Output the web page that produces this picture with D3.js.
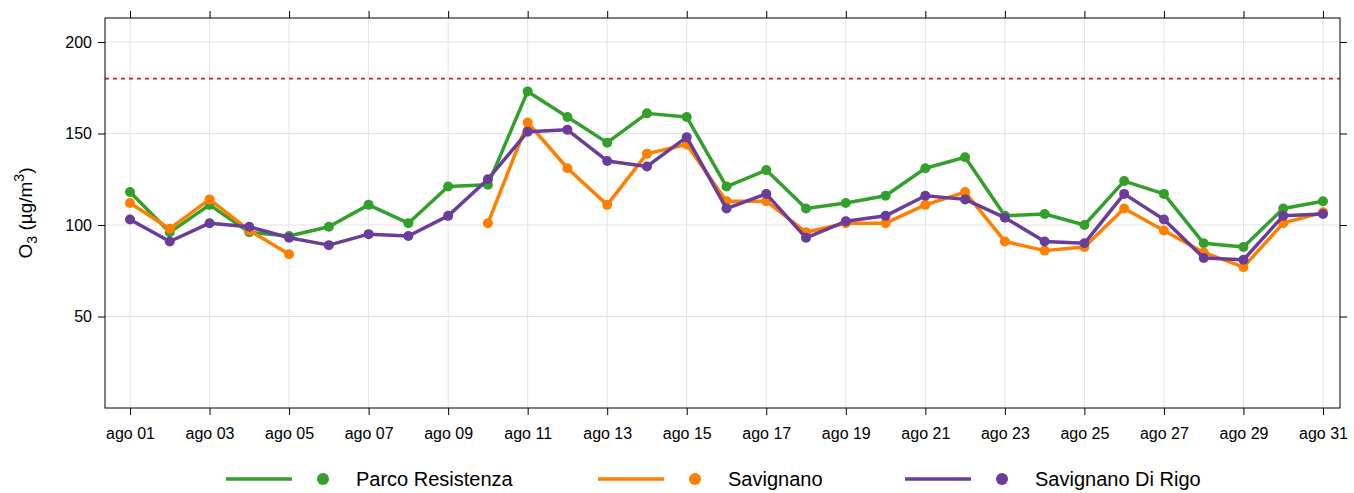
<!DOCTYPE html><html><head><meta charset="utf-8"><script src="https://cdn.jsdelivr.net/npm/d3@7"></script>
<style>body{margin:0;background:#fff}text{font-family:"Liberation Sans",Arial,sans-serif}</style></head><body><svg id="c" width="1354" height="493"></svg><script>
const days = d3.range(1,32);
const tickDays = d3.range(1,32,2);
const yTicks = [50,100,150,200];
const limit = 180;
const parco = [118,96,111,96,94,99,111,101,121,122,173,159,145,161,159,121,130,109,112,116,131,137,105,106,100,124,117,90,88,109,113];
const savignano = [112,98,114,97,84,null,null,null,null,101,156,131,111,139,144,113,113,96,101,101,111,118,91,86,88,109,97,85,77,101,107];
const rigo = [103,91,101,99,93,89,95,94,105,125,151,152,135,132,148,109,117,93,102,105,116,114,104,91,90,117,103,82,81,105,106];
const seriesNames = ["Parco Resistenza","Savignano","Savignano Di Rigo"];
const colors = ["#33a02c","#ff7f00","#6a3d9a"];
const series=[parco,savignano,rigo];
const L=105,R=1340,T=18,B=408;
const svg=d3.select("#c");
const x=d3.scaleLinear().domain([1,31]).range([130,1323]);
const y=d3.scaleLinear().domain([0,200]).range([B,42]);
const pad=n=>String(n).padStart(2,"0");
const g=svg.append("g");
g.selectAll(".vg").data(tickDays).join("line").attr("x1",d=>x(d)).attr("x2",d=>x(d)).attr("y1",T).attr("y2",B).attr("stroke","#e3e3e3");
g.selectAll(".hg").data(yTicks).join("line").attr("x1",L).attr("x2",R).attr("y1",d=>y(d)).attr("y2",d=>y(d)).attr("stroke","#e3e3e3");
g.append("line").attr("x1",L).attr("x2",R).attr("y1",y(limit)).attr("y2",y(limit)).attr("stroke","#e31a1c").attr("stroke-width",1.6).attr("stroke-dasharray","4,4");
svg.append("rect").attr("x",L).attr("y",T).attr("width",R-L).attr("height",B-T).attr("fill","none").attr("stroke","#000");
svg.append("g").attr("transform",`translate(0,${B})`).call(d3.axisBottom(x).tickValues(tickDays).tickSize(7).tickFormat(d=>"ago "+pad(d))).call(a=>{a.select(".domain").remove();a.selectAll("line").attr("stroke","#000");a.selectAll("text").attr("font-size",16).attr("fill","#000").attr("y",20).attr("dy","0.71em")});
svg.append("g").attr("transform",`translate(0,${T})`).call(d3.axisTop(x).tickValues(tickDays).tickSize(7).tickFormat("")).call(a=>a.select(".domain").remove());
svg.append("g").attr("transform",`translate(${L},0)`).call(d3.axisLeft(y).tickValues(yTicks).tickSize(7)).call(a=>{a.select(".domain").remove();a.selectAll("text").attr("font-size",16).attr("fill","#000").attr("x",-13)});
svg.append("g").attr("transform",`translate(${R},0)`).call(d3.axisRight(y).tickValues(yTicks).tickSize(7).tickFormat("")).call(a=>a.select(".domain").remove());
const yl=svg.append("text").attr("transform","translate(32,213) rotate(-90)").attr("text-anchor","middle").attr("font-size",19);
yl.append("tspan").text("O");yl.append("tspan").attr("font-size",14).attr("dy",5).text("3");
yl.append("tspan").attr("dy",-5).text(" (µg/m");yl.append("tspan").attr("font-size",14).attr("dy",-8).text("3");yl.append("tspan").attr("dy",8).text(")");
const line=d3.line().defined(d=>d!=null).x((d,i)=>x(days[i])).y(d=>y(d));
series.forEach((s,k)=>{
 svg.append("path").attr("d",line(s)).attr("fill","none").attr("stroke",colors[k]).attr("stroke-width",3.5).attr("stroke-linejoin","round");
 svg.append("g").selectAll("circle").data(s.map((v,i)=>[i,v]).filter(d=>d[1]!=null)).join("circle").attr("cx",d=>x(days[d[0]])).attr("cy",d=>y(d[1])).attr("r",5).attr("fill",colors[k]);
});
const lx=[226,598,905];
seriesNames.forEach((n,k)=>{
 svg.append("line").attr("x1",lx[k]).attr("x2",lx[k]+66).attr("y1",479).attr("y2",479).attr("stroke",colors[k]).attr("stroke-width",3.5);
 svg.append("circle").attr("cx",lx[k]+97).attr("cy",479).attr("r",6).attr("fill",colors[k]);
 svg.append("text").attr("x",lx[k]+130).attr("y",486).attr("font-size",20).text(n);
});
</script></body></html>
